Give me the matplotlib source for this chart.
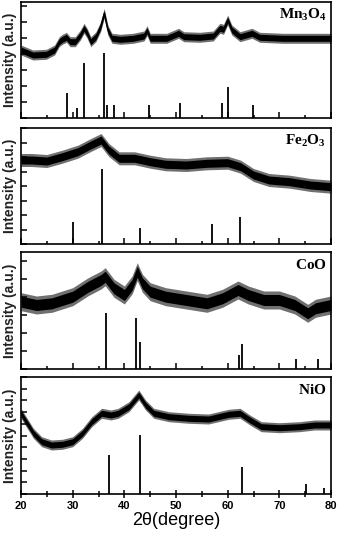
import numpy as np
import matplotlib
matplotlib.use("Agg")
import matplotlib.pyplot as plt
from matplotlib.ticker import MultipleLocator

plt.rcParams['font.family'] = ['Liberation Sans', 'DejaVu Sans']
plt.rcParams['mathtext.fontset'] = 'custom'
plt.rcParams['mathtext.rm'] = 'Liberation Serif:bold'
plt.rcParams['mathtext.bf'] = 'Liberation Serif:bold'

# ---- data (intensity in a.u.) ----
names = [r'$\mathbf{Mn_3O_4}$', r'$\mathbf{Fe_2O_3}$', r'$\mathbf{CoO}$', r'$\mathbf{NiO}$']

mn_x = [20, 22.3, 24.9, 26.5, 27.4, 28.0, 28.8, 29.5, 30.5, 31.5, 32.2, 32.8, 33.5, 34.5,
        35.4, 36.1, 36.8, 37.6, 39.2, 41.7, 43.8, 44.4, 45.0, 48.2, 50.5, 51.5, 54.6,
        57.2, 58.5, 59.2, 60.0, 60.8, 62.4, 64.7, 66.2, 70.7, 75, 80]
mn_y = [68, 63, 63.7, 68, 76.3, 78.7, 80.7, 76.3, 76.3, 83, 89.7, 84.7, 76.3, 81.3,
        91.3, 104.7, 88, 79.7, 78.7, 79.7, 82, 87.3, 79.7, 79.7, 84.7, 81.3, 80.7,
        82, 89.7, 88.7, 98, 88, 81.3, 84.7, 80.7, 79.7, 79.7, 79.7]
mn_stick_x = [28.84, 30.84, 32.13, 36.13, 36.58, 38.0, 44.7, 50.84, 58.84, 60.0, 64.9]
mn_stick_h = [25.3, 10.3, 54.7, 64.7, 12.7, 12.7, 12.7, 15.3, 15.3, 31.3, 12.7]

fe_x = [20, 22, 25, 28, 31, 33.5, 35.5, 37, 39, 42, 45, 48, 52, 56, 60, 62.5, 65, 68, 72, 76, 80]
fe_y = [84, 84, 83, 87.3, 92.3, 99, 104, 94, 85.7, 85.7, 82.3, 79.7, 79, 80.7, 81.3,
        77.3, 69, 64, 62.3, 59, 57.3]
fe_stick_x = [30.13, 35.6, 42.97, 56.9, 62.4]
fe_stick_h = [21.7, 74.7, 15.7, 19.7, 27.3]

co_x = [20, 23, 26, 30, 33, 35.5, 36.3, 38, 40, 41.5, 42.5, 43.5, 45, 48, 52, 56, 59,
        62, 64, 67, 70, 73, 75.5, 77, 80]
co_y = [67.3, 64, 65.7, 72.3, 82.3, 89, 92.3, 80.7, 74, 84, 97.3, 85.7, 77.3, 72.3, 69,
        65.7, 70.7, 79, 74, 69, 69, 64, 55.7, 60.7, 64]
co_stick_x = [36.4, 42.26, 43.0, 62.26, 62.8, 73.2, 77.4]
co_stick_h = [55.7, 50.7, 27.3, 14, 24.7, 10, 10]

ni_x = [20, 21, 22.4, 24, 25.9, 28, 30, 31.9, 33.7, 35.6, 37.4, 38.8, 40.9, 42.8, 44.1,
        45.7, 48.6, 52.5, 56.3, 60.2, 62.4, 64.3, 66.5, 70, 73.9, 76.8, 80]
ni_y = [80.7, 72.3, 60.7, 52.3, 49, 49.7, 52.3, 60.7, 72.3, 80.7, 79, 80.7, 87.3, 99,
        89, 80.7, 77.3, 75.7, 75, 79.7, 80.7, 74, 67.3, 66.3, 67.3, 69, 69]
ni_stick_x = [36.97, 43.03, 62.7, 75.2, 78.7]
ni_stick_h = [39, 59, 27.3, 10, 5.7]

# noise half width of each pattern (dense core / spike tips)
noise = [3.0, 4.0, 5.5, 3.0]
spikes = [5.0, 6.5, 9.0, 5.0]

patterns = [(mn_x, mn_y, mn_stick_x, mn_stick_h),
            (fe_x, fe_y, fe_stick_x, fe_stick_h),
            (co_x, co_y, co_stick_x, co_stick_h),
            (ni_x, ni_y, ni_stick_x, ni_stick_h)]

# panel boxes in pixels (top, bottom)
boxes = [(2, 118), (128, 244), (252, 369), (377, 494)]
ytick_step = [16, 14.5, 18, 11.7]

fig = plt.figure(figsize=(3.38, 5.33), dpi=100)
W, H = 338.0, 533.0

for i, (px, py, sx, sh) in enumerate(patterns):
    top, bot = boxes[i]
    ax = fig.add_axes([21 / W, 1 - bot / H, 310 / W, (bot - top) / H])
    px = np.array(px)
    py = np.array(py)
    ax.fill_between(px, py - spikes[i], py + spikes[i], color='#707070', lw=0)
    ax.fill_between(px, py - noise[i], py + noise[i], color='black', lw=0)
    ax.plot(px, py, color='black', lw=0.8)
    ax.vlines(sx, 0, sh, color='black', lw=1.3)

    ax.set_xlim(20, 80)
    ax.set_ylim(0, bot - top)
    for s in ax.spines.values():
        s.set_linewidth(1.2)

    ax.xaxis.set_major_locator(MultipleLocator(10))
    ax.xaxis.set_minor_locator(MultipleLocator(5))
    ax.yaxis.set_major_locator(MultipleLocator(ytick_step[i]))
    ax.set_yticklabels([])
    ax.tick_params(axis='y', direction='in', length=4, width=1.1, left=True, right=False)
    if i < 3:
        ax.set_xticklabels([])
        ax.tick_params(axis='x', which='major', direction='in', length=4, width=1.1)
        ax.tick_params(axis='x', which='minor', direction='in', length=2.2, width=1.1)
    else:
        ax.tick_params(axis='x', which='major', direction='inout', length=6, width=1.1,
                       labelsize=8, pad=2)
        ax.tick_params(axis='x', which='minor', direction='inout', length=4, width=1.1)
        for t in ax.get_xticklabels():
            t.set_fontweight('bold')
        ax.set_xlabel(u'2\u03b8(degree)', fontsize=13, labelpad=1)

    ax.text(-0.035, 0.5, 'Intensity (a.u.)', transform=ax.transAxes, rotation=90,
            ha='center', va='center', fontsize=10, fontweight='bold', color='#222222')
    ax.text(0.985, 0.89, names[i], transform=ax.transAxes, ha='right', va='center',
            fontsize=11)

fig.savefig('out.png', dpi=100)
